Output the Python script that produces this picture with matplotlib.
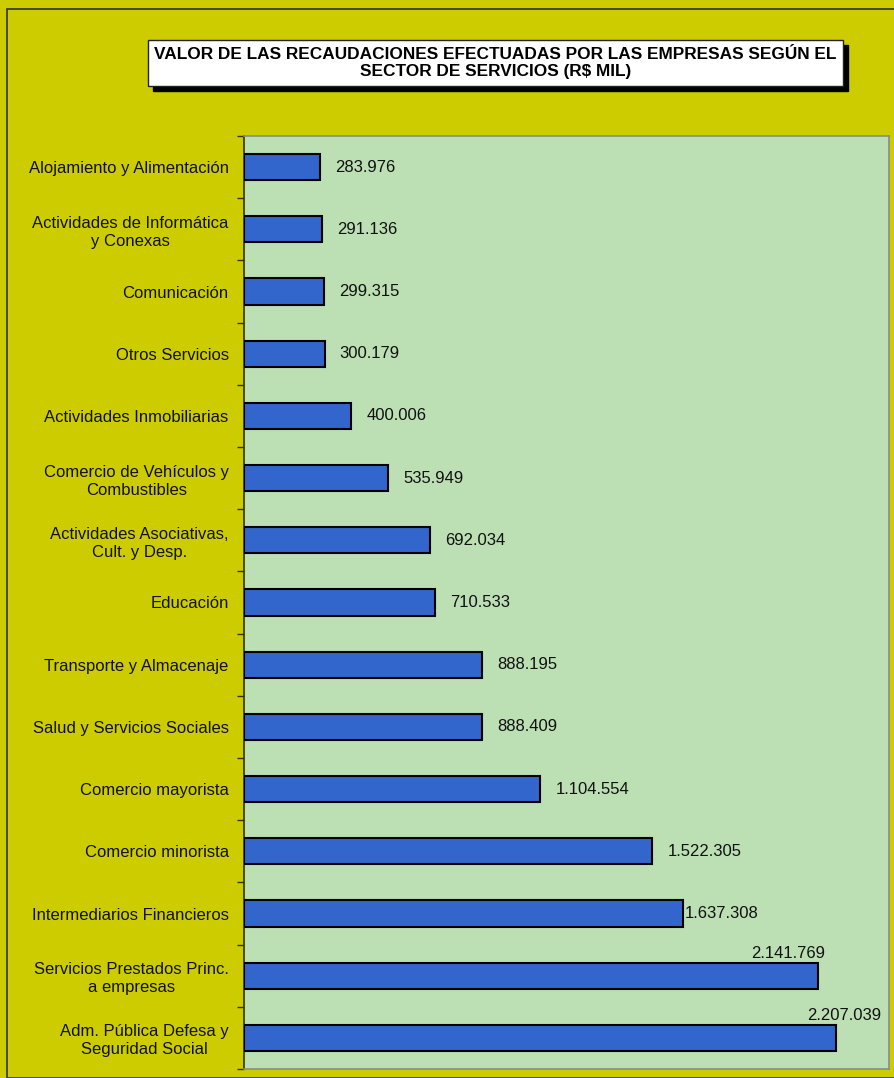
import matplotlib
matplotlib.use("Agg")
import matplotlib.pyplot as plt
from matplotlib.patches import Rectangle

plt.rcParams['font.family'] = ['Liberation Sans', 'DejaVu Sans']

# Datos (R$ mil)
sectores = ["Alojamiento y Alimentación",
            "Actividades de Informática\ny Conexas",
            "Comunicación",
            "Otros Servicios",
            "Actividades Inmobiliarias",
            "Comercio de Vehículos y\nCombustibles",
            "Actividades Asociativas,\nCult. y Desp.",
            "Educación",
            "Transporte y Almacenaje",
            "Salud y Servicios Sociales",
            "Comercio mayorista",
            "Comercio minorista",
            "Intermediarios Financieros",
            "Servicios Prestados Princ.\na empresas",
            "Adm. Pública Defesa y\nSeguridad Social"]
valores = [283976, 291136, 299315, 300179, 400006, 535949, 692034, 710533,
           888195, 888409, 1104554, 1522305, 1637308, 2141769, 2207039]
etiquetas = ["283.976", "291.136", "299.315", "300.179", "400.006", "535.949",
             "692.034", "710.533", "888.195", "888.409", "1.104.554",
             "1.522.305", "1.637.308", "2.141.769", "2.207.039"]

W, H = 894, 1078
fig = plt.figure(figsize=(W / 100, H / 100), dpi=100)
fig.patch.set_facecolor("#CCCC00")

# marco exterior
fig.patches.append(Rectangle((7 / W, 0), 1, 1 - 9 / H, transform=fig.transFigure,
                             fill=False, edgecolor="#333333", linewidth=1.2))

ax = fig.add_axes([244 / W, 1 - 1069 / H, (889 - 244) / W, (1069 - 136) / H])
ax.set_facecolor("#BCDFB3")

n = len(valores)
ypos = list(range(n))
ax.barh(ypos, valores, height=0.42, color="#3366CC", edgecolor="black",
        linewidth=1.5, zorder=3)

ax.set_xlim(0, 2405000)
ax.set_ylim(n - 0.5, -0.5)
ax.set_xticks([])
ax.set_yticks(ypos)
ax.set_yticklabels(sectores, fontsize=12, color="#111111",
                   multialignment="center", linespacing=1.25)
ax.tick_params(axis="y", which="major", length=0, pad=11)
ax.set_yticks([i - 0.5 for i in range(n + 1)], minor=True)
ax.tick_params(axis="y", which="minor", length=5, width=1, color="#333300",
               direction="out")

for s in ["top", "right", "bottom"]:
    ax.spines[s].set_color("#8A8A8A")
    ax.spines[s].set_linewidth(1.2)
ax.spines["left"].set_color("#333300")
ax.spines["left"].set_linewidth(1.2)

for i, (v, t) in enumerate(zip(valores, etiquetas)):
    if v > 2000000:
        dx = -21.6 + (v - 2141769) / 2382
        ax.annotate(t, (v, i - 0.21), xytext=(dx, 1),
                    textcoords="offset points", ha="center", va="bottom",
                    fontsize=12, color="#111111")
    elif v > 1600000:
        ax.annotate(t, (v, i), xytext=(1, 0), textcoords="offset points",
                    ha="left", va="center", fontsize=12, color="#111111")
    else:
        ax.annotate(t, (v, i), xytext=(11, 0), textcoords="offset points",
                    ha="left", va="center", fontsize=12, color="#111111")

# titulo con sombra
bx0, bx1, by0, by1 = 148, 843, 40, 86
fig.patches.append(Rectangle(((bx0 + 5) / W, 1 - (by1 + 5) / H), (bx1 - bx0) / W,
                             (by1 - by0) / H, transform=fig.transFigure,
                             facecolor="black", edgecolor="black"))
fig.patches.append(Rectangle((bx0 / W, 1 - by1 / H), (bx1 - bx0) / W,
                             (by1 - by0) / H, transform=fig.transFigure,
                             facecolor="white", edgecolor="#222222", linewidth=1))
fig.text((bx0 + bx1) / 2 / W, 1 - 63 / H,
         "VALOR DE LAS RECAUDACIONES EFECTUADAS POR LAS EMPRESAS SEGÚN EL\nSECTOR DE SERVICIOS (R$ MIL)",
         ha="center", va="center", fontsize=12.4, fontweight="bold",
         linespacing=1.1)

fig.savefig("out.png", dpi=100, facecolor=fig.get_facecolor())
